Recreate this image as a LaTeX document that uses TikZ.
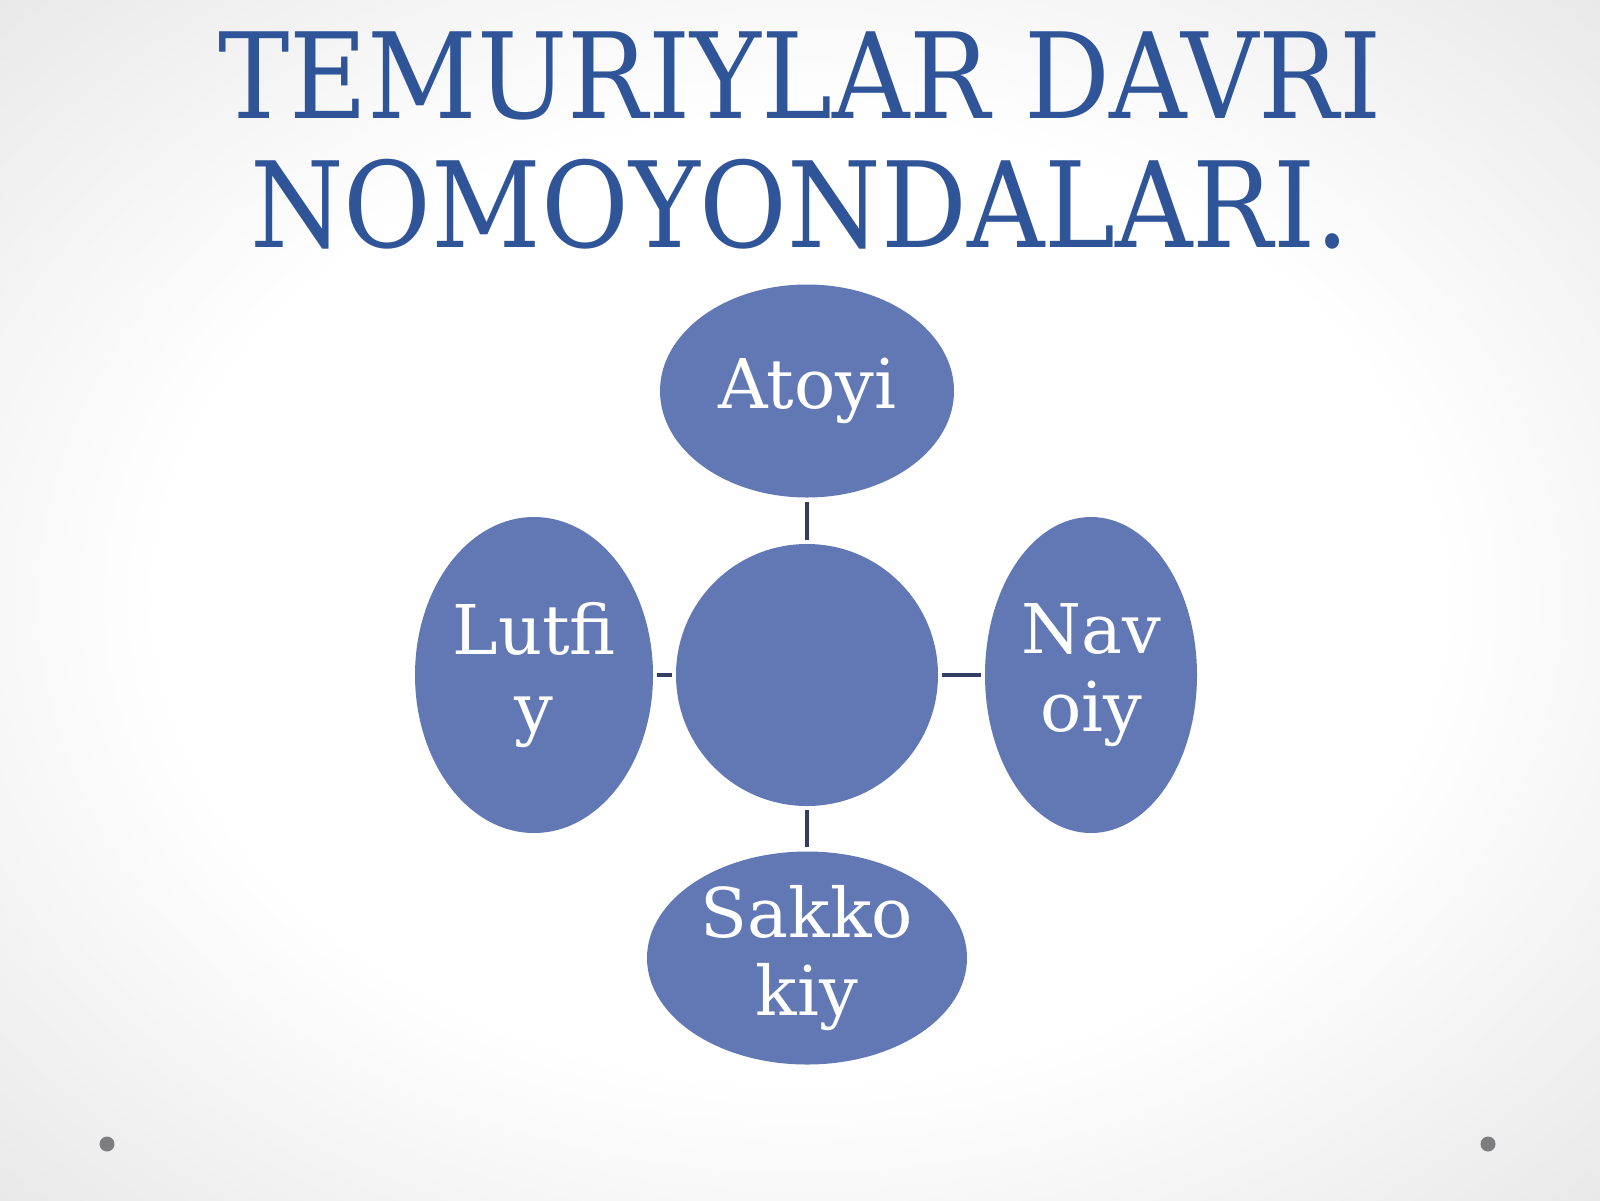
\documentclass[tikz,border=0pt]{standalone}
\usepackage{fontspec}
\setmainfont{DejaVu Serif}
\newfontfamily\titlefont{DejaVu Serif Condensed}
\usepackage{tikz}
\usetikzlibrary{%
	shapes.geometric%
}

\definecolor{bubblefill}{RGB}{98,120,181}
\definecolor{titleblue}{RGB}{47,84,152}
\definecolor{linkcol}{RGB}{52,62,100}
\definecolor{dotgray}{RGB}{125,125,128}

\pgfdeclareradialshading{slidebg}{\pgfpoint{0bp}{0bp}}{%
	color(0bp)=(white); color(20bp)=(white);
	color(36bp)=(black!9); color(50bp)=(black!12)}

\tikzset{
	bubble/.style={ellipse, fill=bubblefill, text=white, inner sep=0pt,
		align=center, font=\fontsize{34.3}{39}\selectfont},
	link/.style={draw=linkcol, line width=2pt, shorten <=2pt, shorten >=2pt},
	heading/.style={anchor=base, text=titleblue,
		font=\titlefont\fontsize{59.5}{64}\selectfont}
}

\begin{document}
\begin{tikzpicture}[x=0.5pt,y=-0.5pt]
	% Background
	\useasboundingbox (0,0) rectangle (1600,1200);
	\shade[shading=slidebg] (0,0) rectangle (1600,1200);
	
	% Title
	\node[heading] (t1) at (800,118) {TEMURIYLAR DAVRI};
	\node[heading] (t2) at (800,247) {NOMOYONDALARI.};
	
	% Ellipses
	\node[bubble, circle, minimum size=131pt] (hub) at (807,675) {};
	\node[bubble, minimum width=147pt, minimum height=106.5pt] (atoyi) at (807,391) {Atoyi};
	\node[bubble, minimum width=119pt, minimum height=158pt] (lutfiy) at (534,675) {Lutfi\\y};
	\node[bubble, minimum width=106pt, minimum height=158pt] (navoiy) at (1091,675) {Nav\\oiy};
	\node[bubble, minimum width=160pt, minimum height=106.5pt] (sakkokiy) at (807,958) {Sakko\\kiy};
	
	% Edges
	\foreach \leaf in {atoyi,lutfiy,navoiy,sakkokiy}
	\draw[link] (hub) -- (\leaf);
	
	% Slide dots
	\coordinate (d0) at (107,1144);
	\coordinate (d1) at (1488,1144);
	\foreach \dot in {d0,d1}
	\fill[dotgray] (\dot) circle (3.75pt);
\end{tikzpicture}
\end{document}
